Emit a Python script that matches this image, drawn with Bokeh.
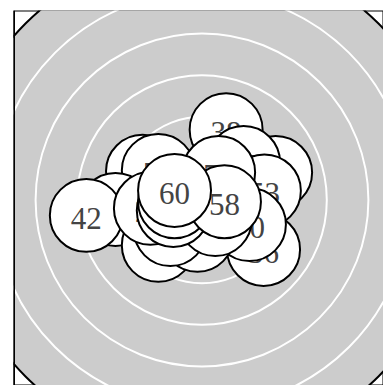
from bokeh.plotting import figure
from bokeh.embed import file_html
from bokeh.resources import INLINE
from bokeh.core.properties import value
from bokeh.models import Span

# Target rings (in ring units)
ring_radii = [1, 2, 3, 4, 5]
target_radius = 6

# Shots, in drawing order (back to front)
shot_x = [1.77, 0.58, 1.00, 1.50, 1.48, 1.14, -1.43, -1.05, -2.08, -2.78,
          -1.05, -0.11, -0.76, -1.24, 0.40, 0.32, -0.69, -0.66, 0.54, -0.66]
shot_y = [0.66, 1.69, 0.90, 0.22, -1.19, -0.59, 0.69, 0.71, -0.23, -0.37,
          -1.09, -0.85, -0.71, -0.20, 0.66, -0.47, -0.25, -0.04, -0.04, 0.23]
shot_labels = ["45", "38", "56", "53", "36", "50", "48", "51", "41", "42",
               "44", "52", "55", "24", "74", "54", "57", "59", "58", "60"]
shot_radius = 0.877

x_start, x_end = -4.531, 4.363
y_start, y_end = -4.459, 4.555

p = figure(width=383, height=385, output_backend="svg", toolbar_location=None,
           x_range=(x_start, x_end), y_range=(y_start, y_end),
           min_border_left=13, min_border_top=10, min_border_right=0, min_border_bottom=0)
p.axis.visible = False
p.grid.visible = False
p.outline_line_color = None
p.background_fill_color = "white"
p.border_fill_color = "white"

# frame border (under the target)
p.rect(x=[(x_start + x_end) / 2], y=[(y_start + y_end) / 2],
       width=[x_end - x_start], height=[y_end - y_start],
       fill_color=None, line_color="black", line_width=2)

# target
p.circle(x=[0], y=[0], radius=target_radius, fill_color="#cccccc",
         line_color="black", line_width=2)
p.circle(x=[0] * len(ring_radii), y=[0] * len(ring_radii), radius=ring_radii,
         fill_color=None, line_color="white", line_width=2)

for i in range(len(shot_x)):
    p.circle(x=[shot_x[i]], y=[shot_y[i]], radius=shot_radius,
             fill_color="white", line_color="black", line_width=2)
    p.text(x=[shot_x[i]], y=[shot_y[i]], text=[shot_labels[i]],
           text_align="center", text_baseline="middle", y_offset=3,
           text_font=value("Liberation Serif"), text_font_size="31px",
           text_color="#444444")

p.add_layout(Span(location=x_start, dimension="height", line_color="black", line_width=3))

open("out.html", "w").write(file_html(p, INLINE))
